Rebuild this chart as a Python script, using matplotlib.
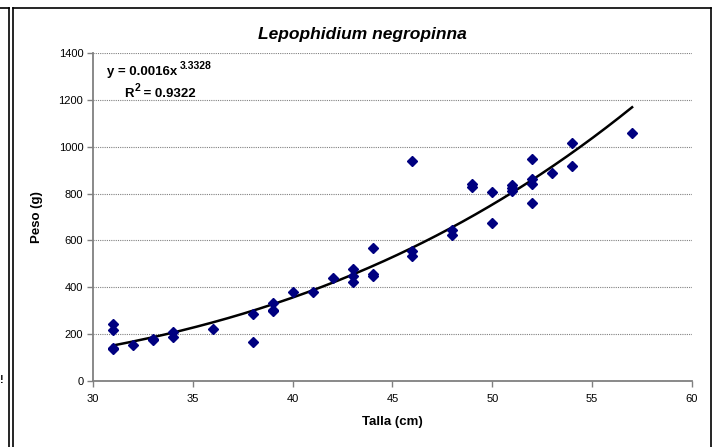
import numpy as np
import matplotlib
matplotlib.use('Agg')
import matplotlib.pyplot as plt
from matplotlib.lines import Line2D

plt.rcParams['font.family'] = ['Liberation Sans', 'DejaVu Sans']

# Datos
talla = [31, 31, 31, 31, 32, 33, 33, 34, 34, 36, 38, 38, 39, 39, 39, 40, 41,
         42, 43, 43, 43, 44, 44, 44, 46, 46, 46, 48, 48, 49, 49, 50, 50,
         51, 51, 51, 52, 52, 52, 52, 53, 54, 54, 57]
peso = [242, 218, 140, 135, 153, 175, 180, 209, 188, 222, 286, 168, 331, 305, 300, 378, 378,
        438, 476, 447, 422, 568, 455, 448, 940, 554, 534, 644, 622, 840, 830, 805, 676,
        838, 825, 810, 948, 864, 840, 760, 887, 1015, 918, 1060]

x_ticks = [30, 35, 40, 45, 50, 55, 60]
y_ticks = [0, 200, 400, 600, 800, 1000, 1200, 1400]

W, H = 718, 447
fig = plt.figure(figsize=(W / 100, H / 100), dpi=100)
ax = fig.add_axes([93 / W, 1 - 381 / H, (692 - 93) / W, (381 - 53) / H])

# Ajuste potencial (regresion log-log, como Excel)
b, loga = np.polyfit(np.log(talla), np.log(peso), 1)
xs = np.linspace(min(talla), max(talla), 200)
ax.plot(xs, np.exp(loga) * xs ** b, color='black', lw=1.8, zorder=3)

ax.plot(talla, peso, linestyle='none', marker='D', markersize=4.6,
        color='#000080', mec='#000080', zorder=4)

ax.set_xlim(30, 60)
ax.set_ylim(0, 1400)
ax.set_xticks(x_ticks)
ax.set_yticks(y_ticks)
ax.tick_params(labelsize=8, length=4, width=1, color='#808080', pad=3)
ax.tick_params(axis='x', pad=5)
ax.yaxis.grid(True, color='#808080', linestyle=(0, (1, 1)), lw=0.8)
ax.set_axisbelow(True)
for s in ['top', 'right']:
    ax.spines[s].set_visible(False)
for s in ['left', 'bottom']:
    ax.spines[s].set_color('#808080')
    ax.spines[s].set_linewidth(1.3)

ax.set_xlabel('Talla (cm)', fontsize=9.5, fontweight='bold', labelpad=9)
ax.set_ylabel('Peso (g)', fontsize=9.5, fontweight='bold', labelpad=11)

fig.text(362 / W, 1 - 34 / H, 'Lepophidium negropinna', fontsize=12.5,
         fontweight='bold', fontstyle='italic', ha='center', va='center')

# Ecuacion y R2
fig.canvas.draw()
r = fig.canvas.get_renderer()
t1 = fig.text(107 / W, 1 - 75 / H, 'y = 0.0016x', fontsize=9.5, fontweight='bold',
              va='baseline')
e1 = t1.get_window_extent(r)
fig.text(e1.x1 / W + 3 / W, 1 - 69 / H, '3.3328', fontsize=7.5, fontweight='bold',
         va='baseline')
t2 = fig.text(124 / W, 1 - 97 / H, 'R', fontsize=9.5, fontweight='bold', va='baseline')
e2 = t2.get_window_extent(r)
t3 = fig.text(e2.x1 / W + 1 / W, 1 - 91 / H, '2', fontsize=7.5, fontweight='bold',
              va='baseline')
e3 = t3.get_window_extent(r)
fig.text(e3.x1 / W, 1 - 97 / H, ' = 0.9322', fontsize=9.5, fontweight='bold',
         va='baseline')

# Marcos
def fl(x0, y0, x1, y1):
    fig.add_artist(Line2D([x0 / W, x1 / W], [1 - y0 / H, 1 - y1 / H],
                          color='black', lw=1.2))

fl(0, 8, 9, 8)
fl(9, 8, 9, H)
fl(13, 8, 711, 8)
fl(13, 8, 13, H)
fl(711, 8, 711, H)
fig.text(0, 1 - 383 / H, '!', fontsize=8, fontweight='bold', va='baseline')

fig.savefig('out.png', dpi=100)
